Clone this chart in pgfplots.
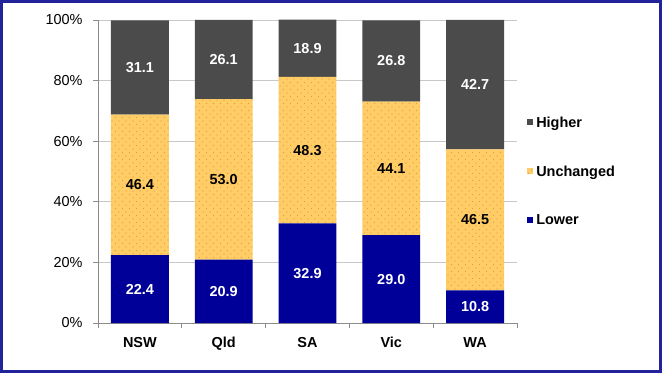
\documentclass[border=0pt]{standalone}
\usepackage{pgfplots}
\pgfplotsset{compat=1.18}
\usepackage{fontspec}
\setmainfont{Liberation Sans}
\usetikzlibrary{patterns}
\definecolor{lowc}{HTML}{000099}
\definecolor{unc}{HTML}{FFCC66}
\definecolor{hic}{HTML}{4B4B4B}
\definecolor{framec}{HTML}{22229A}
\definecolor{gridc}{HTML}{C8C8C8}
\definecolor{dotc}{HTML}{D9A040}
\pgfdeclarepatternformonly{sparsedots}{\pgfqpoint{-1bp}{-1bp}}{\pgfqpoint{8bp}{8bp}}{\pgfqpoint{7bp}{7bp}}{%
  \pgfpathcircle{\pgfqpoint{0bp}{0bp}}{0.6bp}%
  \pgfpathcircle{\pgfqpoint{3.5bp}{3.5bp}}{0.6bp}%
  \pgfusepath{fill}}
\begin{document}
\begin{tikzpicture}
\draw[framec, line width=3bp] (1.5bp,1.5bp) rectangle (660.5bp,371.5bp);
\begin{axis}[
  at={(98bp,50bp)}, anchor=south west,
  scale only axis, width=419bp, height=303bp,
  ybar stacked, bar width=0.69,
  xmin=-0.5, xmax=4.5, ymin=0, ymax=100, clip=false,
  /pgf/number format/assume math mode=true,
  xtick={-0.5,0.5,1.5,2.5,3.5,4.5}, xticklabels={},
  extra x ticks={0,1,2,3,4},
  extra x tick labels={NSW,Qld,SA,Vic,WA},
  extra x tick style={major tick length=0pt, tick label style={font=\bfseries\fontsize{14.5}{16}\selectfont, yshift=-11bp}},
  ytick={0,20,40,60,80,100},
  yticklabel={\pgfmathprintnumber{\tick}\%},
  y tick label style={font=\fontsize{14.5}{16}\selectfont, xshift=-7bp},
  tick align=outside, major tick length=5bp,
  tick style={gridc!70!black, line width=0.8bp},
  axis x line*=bottom, axis y line*=left,
  axis line style={gridc!70!black, line width=0.8bp},
  ymajorgrids, grid style={gridc, line width=0.8bp},
  legend style={at={(1.024,0.500)}, anchor=west, draw=none, fill=none,
    font=\bfseries\fontsize{14.5}{16}\selectfont, row sep=35bp, inner sep=0pt,
    nodes={inner sep=1bp}},
  legend cell align=left,
  legend image code/.code={\fill[#1] (0bp,-2.5bp) rectangle (6bp,3.5bp);},
  /tikz/every odd column/.append style={column sep=2bp},
  reverse legend,
  point meta=rawy,
  nodes near coords={\pgfmathprintnumber[fixed,fixed zerofill,precision=1]{\pgfplotspointmeta}},
  every node near coord/.append style={anchor=center, font=\bfseries\fontsize{14.5}{16}\selectfont},
]
\addplot[fill=lowc, draw=none, every node near coord/.append style={white}]
  coordinates {(0,22.4) (1,20.9) (2,32.9) (3,29.0) (4,10.8)};
\addlegendentry{Lower}
\addplot[fill=unc, draw=none, postaction={pattern=sparsedots, pattern color=dotc}, every node near coord/.append style={black}]
  coordinates {(0,46.4) (1,53.0) (2,48.3) (3,44.1) (4,46.5)};
\addlegendentry{Unchanged}
\addplot[fill=hic, draw=none, every node near coord/.append style={white}]
  coordinates {(0,31.1) (1,26.1) (2,18.9) (3,26.8) (4,42.7)};
\addlegendentry{Higher}
\end{axis}
\end{tikzpicture}
\end{document}
